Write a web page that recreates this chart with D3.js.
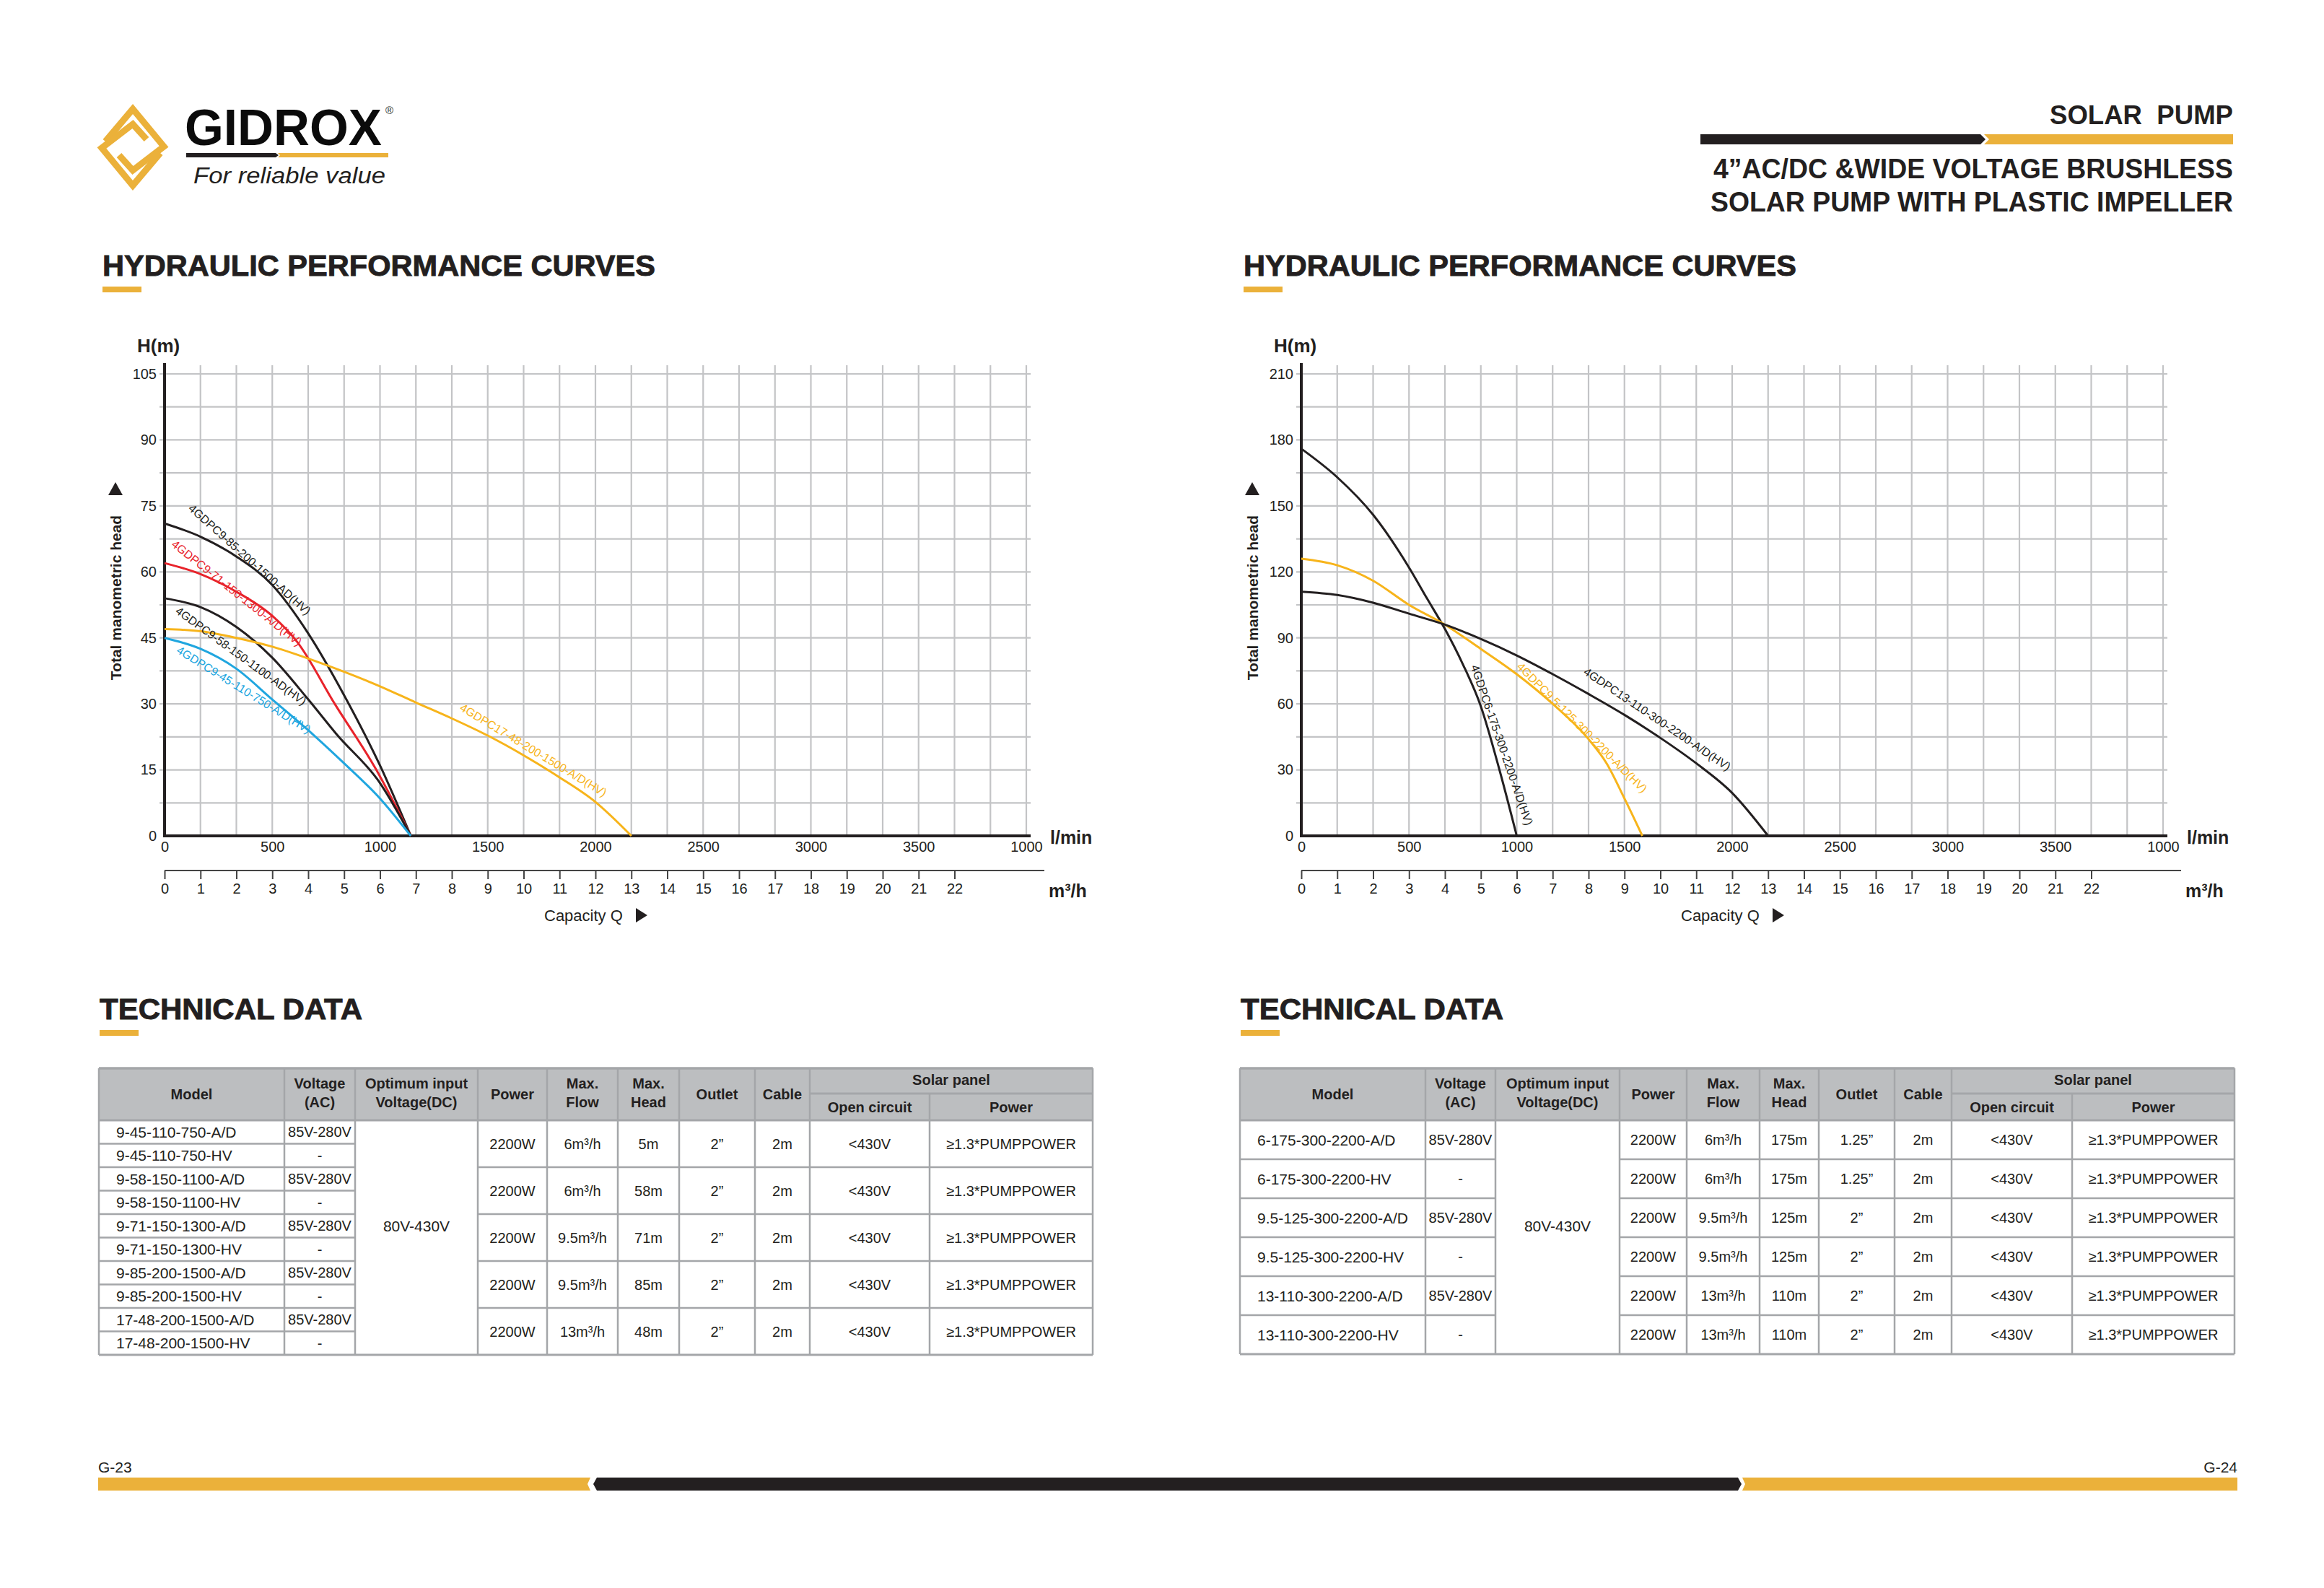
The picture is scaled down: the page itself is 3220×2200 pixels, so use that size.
<!DOCTYPE html>
<html><head><meta charset="utf-8">
<script src="https://cdn.jsdelivr.net/npm/d3@7/dist/d3.min.js"></script>
<style>body{margin:0;background:#fff}text{font-family:"Liberation Sans",Arial,sans-serif}</style>
</head><body>
<script>
// ---------------- DATA ----------------
// Left chart (H 0-105 m), flow in l/min as printed on the chart's l/min axis
const c85Flow = [0,167,333,500,667,833,1000,1143];
const c85Head = [71,68,63.5,57,46,32,16,0];
const c71Flow = [0,167,333,500,617,790,983,1143];
const c71Head = [62,59.5,55.5,50,44,30,15,0];
const c58Flow = [0,167,333,500,667,800,1000,1143];
const c58Head = [54,52,47.5,40.5,31,23,12,0];
const c45Flow = [0,167,333,500,667,833,1000,1143];
const c45Head = [45,42.5,38,31,24,16.5,8.5,0];
const c48Flow = [0,167,333,500,667,833,1000,1167,1333,1500,1667,1833,2000,2167];
const c48Head = [47,46.5,45,43,40.3,37.3,34,30.3,26.7,22.8,18.3,13.3,7.7,0];
const leftNames = ["4GDPC9-85-200-1500-AD(HV)","4GDPC9-71-150-1300-A/D(HV)","4GDPC9-58-150-1100-AD(HV)","4GDPC9-45-110-750-A/D(HV)","4GDPC17-48-200-1500-A/D(HV)"];
const leftLabelFlow = [395,335,355,368,1712];
const leftLabelHead = [62.8,55.2,40.9,33.2,19.5];
const leftLabelAngle = [41.8,38.4,36,31.7,31.1];

// Right chart (H 0-210 m)
const r175Flow = [0,167,333,500,583,667,750,833,917,1000];
const r175Head = [176,163,146,122,108,94,78,59,31,0];
const r125Flow = [0,167,333,500,667,833,1000,1167,1333,1417,1500,1583];
const r125Head = [126,123,116,105,96,85,73.5,60,44,33,17,0];
const r110Flow = [0,167,333,500,667,833,1000,1167,1333,1500,1667,1833,2000,2167];
const r110Head = [111,109.5,106,101,96,89.5,82,73.5,64.5,55,44.5,33,19.5,0];
const rightNames = ["4GDPC6-175-300-2200-A/D(HV)","4GDPC9.5-125-300-2200-A/D(HV)","4GDPC13-110-300-2200-A/D(HV)"];
const rightLabelFlow = [931,1303,1652];
const rightLabelHead = [41.3,49.2,53.1];
const rightLabelAngle = [71,45,34];

// Axis ticks
const leftHeadTicks = [0,15,30,45,60,75,90,105];
const rightHeadTicks = [0,30,60,90,120,150,180,210];
const lminTicks = [0,500,1000,1500,2000,2500,3000,3500,4000];
const lminLabels = ["0","500","1000","1500","2000","2500","3000","3500","1000"];
const m3hTicks = [0,1,2,3,4,5,6,7,8,9,10,11,12,13,14,15,16,17,18,19,20,21,22];
const m3hGrid = [1,2,3,4,5,6,7,8,9,10,11,12,13,14,15,16,17,18,19,20,21,22,23,24];

// Tables
const leftModels = ["9-45-110-750-A/D","9-45-110-750-HV","9-58-150-1100-A/D","9-58-150-1100-HV","9-71-150-1300-A/D","9-71-150-1300-HV","9-85-200-1500-A/D","9-85-200-1500-HV","17-48-200-1500-A/D","17-48-200-1500-HV"];
const leftAC = ["85V-280V","-","85V-280V","-","85V-280V","-","85V-280V","-","85V-280V","-"];
const leftPower = ["2200W","2200W","2200W","2200W","2200W"];
const leftFlow = ["6m³/h","6m³/h","9.5m³/h","9.5m³/h","13m³/h"];
const leftHead = ["5m","58m","71m","85m","48m"];
const leftOutlet = ["2”","2”","2”","2”","2”"];
const leftCable = ["2m","2m","2m","2m","2m"];
const leftOpen = ["<430V","<430V","<430V","<430V","<430V"];
const leftPanel = ["≥1.3*PUMPPOWER","≥1.3*PUMPPOWER","≥1.3*PUMPPOWER","≥1.3*PUMPPOWER","≥1.3*PUMPPOWER"];
const rightModels = ["6-175-300-2200-A/D","6-175-300-2200-HV","9.5-125-300-2200-A/D","9.5-125-300-2200-HV","13-110-300-2200-A/D","13-110-300-2200-HV"];
const rightAC = ["85V-280V","-","85V-280V","-","85V-280V","-"];
const rightPower = ["2200W","2200W","2200W","2200W","2200W","2200W"];
const rightFlow = ["6m³/h","6m³/h","9.5m³/h","9.5m³/h","13m³/h","13m³/h"];
const rightHead = ["175m","175m","125m","125m","110m","110m"];
const rightOutlet = ["1.25”","1.25”","2”","2”","2”","2”"];
const rightCable = ["2m","2m","2m","2m","2m","2m"];
const rightOpen = ["<430V","<430V","<430V","<430V","<430V","<430V"];
const rightPanel = ["≥1.3*PUMPPOWER","≥1.3*PUMPPOWER","≥1.3*PUMPPOWER","≥1.3*PUMPPOWER","≥1.3*PUMPPOWER","≥1.3*PUMPPOWER"];
const dcVoltage = "80V-430V";

// ---------------- STYLE ----------------
const DARK="#231f20", GOLD="#ebb13a", YEL="#f7b41b", RED="#e8232b", BLUE="#20a6df", GRID="#c3c4c6";
const W=3220, H=2200;
const svg = d3.select("body").append("svg").attr("width",W).attr("height",H);
svg.append("rect").attr("width",W).attr("height",H).attr("fill","#fff");

// ---------------- HEADER ----------------
const logo = svg.append("g");
const shapeA = [[146,196],[184,151],[227,203],[184,236],[165,215]];
const shapeB = [[222,212],[184,257],[141,205],[184,172],[203,193]];
[shapeA,shapeB].forEach(p=>logo.append("path").attr("d",d3.line()(p)).attr("fill","none")
  .attr("stroke",GOLD).attr("stroke-width",9).attr("stroke-linejoin","miter").attr("stroke-linecap","butt"));
logo.append("text").attr("x",256).attr("y",201).attr("font-size",70).attr("font-weight","bold")
  .attr("textLength",273).attr("lengthAdjust","spacingAndGlyphs").attr("fill","#0b0b0b").text("GIDROX");
logo.append("text").attr("x",534).attr("y",158).attr("font-size",15).attr("fill",DARK).text("®");
logo.append("path").attr("d","M258,212 L382,212 L386,215 L382,218 L258,218 Z").attr("fill",DARK);
logo.append("path").attr("d","M385,212 L538,212 L538,218 L385,218 L388,215 Z").attr("fill",GOLD);
logo.append("text").attr("x",268).attr("y",254).attr("font-size",31).attr("font-style","italic")
  .attr("font-family","'DejaVu Sans',sans-serif").attr("font-weight","300").attr("fill",DARK)
  .attr("textLength",266).attr("lengthAdjust","spacingAndGlyphs").text("For reliable value");

const hdr = svg.append("g");
hdr.append("text").attr("x",3094).attr("y",172).attr("text-anchor","end").attr("font-size",36).attr("font-weight","bold")
  .attr("fill",DARK).attr("textLength",254).attr("lengthAdjust","spacingAndGlyphs").attr("xml:space","preserve").text("SOLAR  PUMP");
hdr.append("path").attr("d","M2356,186 L2744,186 L2751,193 L2744,200 L2356,200 Z").attr("fill",DARK);
hdr.append("path").attr("d","M2749,186 L3094,186 L3094,200 L2749,200 L2756,193 Z").attr("fill",GOLD);
hdr.append("text").attr("x",3094).attr("y",247).attr("text-anchor","end").attr("font-size",38).attr("font-weight","bold")
  .attr("fill",DARK).attr("textLength",720).attr("lengthAdjust","spacingAndGlyphs").text("4”AC/DC &WIDE VOLTAGE BRUSHLESS");
hdr.append("text").attr("x",3094).attr("y",293).attr("text-anchor","end").attr("font-size",38).attr("font-weight","bold")
  .attr("fill",DARK).attr("textLength",724).attr("lengthAdjust","spacingAndGlyphs").text("SOLAR PUMP WITH PLASTIC IMPELLER");

function sectionTitle(x,y,txt,len){
  svg.append("text").attr("x",x).attr("y",y).attr("font-size",41).attr("font-weight","bold").attr("fill",DARK)
    .attr("stroke",DARK).attr("stroke-width",0.9).attr("textLength",len).attr("lengthAdjust","spacingAndGlyphs").text(txt);
  svg.append("rect").attr("x",x).attr("y",y+15).attr("width",54).attr("height",8).attr("fill",GOLD);
}
sectionTitle(142,382,"HYDRAULIC PERFORMANCE CURVES",766);
sectionTitle(1723,382,"HYDRAULIC PERFORMANCE CURVES",766);
sectionTitle(138,1412,"TECHNICAL DATA",364);
sectionTitle(1719,1412,"TECHNICAL DATA",364);

// ---------------- CHARTS ----------------
function drawChart(x0, yMax, headTicks, curves, labels){
  const g = svg.append("g");
  const yTop=518, yBot=1158, xw=1194;
  const x = d3.scaleLinear().domain([0,4000]).range([x0,x0+xw]);
  const xm = d3.scaleLinear().domain([0,24]).range([x0,x0+xw]);
  const y = d3.scaleLinear().domain([0,yMax]).range([yBot,yTop]);
  const hGrid = d3.range(1,15).map(i=>i*yMax/14);
  // grid
  g.selectAll(".vg").data(m3hGrid).join("line").attr("x1",d=>xm(d)).attr("x2",d=>xm(d))
    .attr("y1",yTop-12).attr("y2",yBot).attr("stroke",GRID).attr("stroke-width",2.2);
  g.selectAll(".hg").data(hGrid).join("line").attr("x1",x0-7).attr("x2",x0+xw+6)
    .attr("y1",d=>y(d)).attr("y2",d=>y(d)).attr("stroke",GRID).attr("stroke-width",2.2);
  // axes lines
  g.append("line").attr("x1",x0).attr("x2",x0).attr("y1",yTop-15).attr("y2",yBot+2).attr("stroke",DARK).attr("stroke-width",4);
  g.append("line").attr("x1",x0-2).attr("x2",x0+xw+6).attr("y1",yBot).attr("y2",yBot).attr("stroke",DARK).attr("stroke-width",4);
  // y axis labels
  const ya = g.append("g").attr("transform",`translate(${x0},0)`)
    .call(d3.axisLeft(y).tickValues(headTicks).tickSize(0).tickPadding(11).tickFormat(d3.format("d")));
  ya.select(".domain").remove();
  ya.selectAll("text").attr("font-size",20).attr("fill",DARK).attr("font-family","'Liberation Sans',Arial,sans-serif");
  // l/min axis
  const xa = g.append("g").attr("transform",`translate(0,${yBot})`)
    .call(d3.axisBottom(x).tickValues(lminTicks).tickSize(0).tickPadding(8).tickFormat((d,i)=>lminLabels[i]));
  xa.select(".domain").remove();
  xa.selectAll("text").attr("font-size",20).attr("fill",DARK).attr("font-family","'Liberation Sans',Arial,sans-serif");
  // m3/h axis
  const mY = 1206;
  const ma = g.append("g").attr("transform",`translate(0,${mY})`)
    .call(d3.axisBottom(xm).tickValues(m3hTicks).tickSize(12).tickPadding(6).tickFormat(d3.format("d")));
  ma.select(".domain").remove();
  ma.selectAll("line").attr("stroke","#444").attr("stroke-width",2);
  ma.selectAll("text").attr("font-size",20).attr("fill",DARK).attr("font-family","'Liberation Sans',Arial,sans-serif");
  g.append("line").attr("x1",x0).attr("x2",x0+xw+25).attr("y1",mY).attr("y2",mY).attr("stroke","#444").attr("stroke-width",2.2);
  // axis titles
  g.append("text").attr("x",x0-38).attr("y",488).attr("font-size",26).attr("font-weight","bold").attr("fill",DARK).text("H(m)");
  g.append("text").attr("x",x0+xw+33).attr("y",1169).attr("font-size",25).attr("font-weight","bold").attr("fill",DARK).text("l/min");
  g.append("text").attr("x",x0+xw+31).attr("y",1243).attr("font-size",25).attr("font-weight","bold").attr("fill",DARK).text("m³/h");
  g.append("text").attr("transform",`translate(${x0-60},828) rotate(-90)`).attr("text-anchor","middle")
    .attr("font-size",21).attr("font-weight","bold").attr("fill",DARK).text("Total manometric head");
  const tx=x0-68, ty=677;
  g.append("path").attr("d",`M${tx-10},${ty+9} L${tx+10},${ty+9} L${tx},${ty-9} Z`).attr("fill",DARK);
  g.append("text").attr("x",x0+526).attr("y",1276).attr("font-size",22).attr("fill",DARK).text("Capacity  Q");
  const px=x0+660, py=1268;
  g.append("path").attr("d",`M${px-7},${py-10} L${px-7},${py+10} L${px+9},${py} Z`).attr("fill",DARK);
  // curves
  const line = d3.line().x(d=>x(d[0])).y(d=>y(d[1])).curve(d3.curveMonotoneX);
  curves.forEach(c=>{
    g.append("path").datum(d3.zip(c.flow,c.head)).attr("d",line).attr("fill","none")
      .attr("stroke",c.color).attr("stroke-width",3);
  });
  labels.forEach(l=>{
    g.append("text").attr("transform",`translate(${x(l.f)},${y(l.h)}) rotate(${l.a})`)
      .attr("text-anchor","middle").attr("dominant-baseline","central").attr("font-size",16)
      .attr("fill",l.color).text(l.name);
  });
}
const leftColors=[DARK,RED,DARK,BLUE,YEL];
const lc=[[c85Flow,c85Head],[c71Flow,c71Head],[c58Flow,c58Head],[c45Flow,c45Head],[c48Flow,c48Head]];
drawChart(228,105,leftHeadTicks,
  lc.map((c,i)=>({flow:c[0],head:c[1],color:leftColors[i]})),
  leftNames.map((n,i)=>({name:n,f:leftLabelFlow[i],h:leftLabelHead[i],a:leftLabelAngle[i],color:leftColors[i]})));
const rightColors=[DARK,YEL,DARK];
const rc=[[r175Flow,r175Head],[r125Flow,r125Head],[r110Flow,r110Head]];
drawChart(1803,210,rightHeadTicks,
  rc.map((c,i)=>({flow:c[0],head:c[1],color:rightColors[i]})),
  rightNames.map((n,i)=>({name:n,f:rightLabelFlow[i],h:rightLabelHead[i],a:rightLabelAngle[i],color:rightColors[i]})));

// ---------------- TABLES ----------------
function drawTable(cols, nRows, rowH, group, models, ac, per){
  const g=svg.append("g");
  const top=1480, hb=1552, sub=1515, bot=hb+nRows*rowH;
  const LC="#a4a6a9";
  g.append("rect").attr("x",cols[0]).attr("y",top).attr("width",cols[10]-cols[0]).attr("height",hb-top).attr("fill","#bcbec0");
  const hdrs=[["Model"],["Voltage","(AC)"],["Optimum input","Voltage(DC)"],["Power"],["Max.","Flow"],["Max.","Head"],["Outlet"],["Cable"]];
  hdrs.forEach((h,i)=>{
    const cx=(cols[i]+cols[i+1])/2;
    h.forEach((t,j)=>{
      const yy = h.length==1 ? (top+hb)/2 : (j==0?1501:1527);
      g.append("text").attr("x",cx).attr("y",yy).attr("text-anchor","middle").attr("dominant-baseline","central")
        .attr("font-size",20).attr("font-weight","bold").attr("fill",DARK).text(t);
    });
  });
  g.append("text").attr("x",(cols[8]+cols[10])/2).attr("y",1496).attr("text-anchor","middle").attr("dominant-baseline","central")
    .attr("font-size",20).attr("font-weight","bold").attr("fill",DARK).text("Solar panel");
  g.append("text").attr("x",(cols[8]+cols[9])/2).attr("y",1534).attr("text-anchor","middle").attr("dominant-baseline","central")
    .attr("font-size",20).attr("font-weight","bold").attr("fill",DARK).text("Open circuit");
  g.append("text").attr("x",(cols[9]+cols[10])/2).attr("y",1534).attr("text-anchor","middle").attr("dominant-baseline","central")
    .attr("font-size",20).attr("font-weight","bold").attr("fill",DARK).text("Power");
  const L=(x1,y1,x2,y2,w)=>g.append("line").attr("x1",x1).attr("y1",y1).attr("x2",x2).attr("y2",y2).attr("stroke",LC).attr("stroke-width",w||2.5);
  L(cols[0],top,cols[10],top,3.5); L(cols[0],hb,cols[10],hb,3); L(cols[0],bot,cols[10],bot,3);
  L(cols[8],sub,cols[10],sub,3);
  cols.forEach((c,i)=>{ if(i==9) L(c,sub,c,bot); else L(c,top,c,bot); });
  for(let r=1;r<nRows;r++){
    const yy=hb+r*rowH;
    L(cols[0],yy,cols[2],yy);
    if(r%group==0) L(cols[3],yy,cols[10],yy);
  }
  models.forEach((m,r)=>{
    const cy=hb+(r+0.5)*rowH;
    g.append("text").attr("x",cols[0]+24).attr("y",cy).attr("dominant-baseline","central").attr("font-size",21).attr("fill",DARK).text(m);
    g.append("text").attr("x",(cols[1]+cols[2])/2).attr("y",cy).attr("text-anchor","middle").attr("dominant-baseline","central").attr("font-size",20).attr("fill",DARK).text(ac[r]);
  });
  g.append("text").attr("x",(cols[2]+cols[3])/2).attr("y",1698).attr("text-anchor","middle").attr("dominant-baseline","central").attr("font-size",21).attr("fill",DARK).text(dcVoltage);
  per.forEach((arr,k)=>{
    const c=k+3;
    arr.forEach((v,gi)=>{
      const cy=hb+(gi+0.5)*group*rowH;
      g.append("text").attr("x",(cols[c]+cols[c+1])/2).attr("y",cy).attr("text-anchor","middle").attr("dominant-baseline","central")
        .attr("font-size",20).attr("fill",DARK).text(v);
    });
  });
}
drawTable([137,394,492,662,758,856,941,1046,1122,1288,1514],10,32.5,2,leftModels,leftAC,
  [leftPower,leftFlow,leftHead,leftOutlet,leftCable,leftOpen,leftPanel]);
drawTable([1718,1975,2072,2244,2337,2438,2520,2625,2704,2871,3096],6,54,1,rightModels,rightAC,
  [rightPower,rightFlow,rightHead,rightOutlet,rightCable,rightOpen,rightPanel]);

// ---------------- FOOTER ----------------
svg.append("text").attr("x",136).attr("y",2040).attr("font-size",21).attr("fill",DARK).text("G-23");
svg.append("text").attr("x",3100).attr("y",2040).attr("text-anchor","end").attr("font-size",21).attr("fill",DARK).text("G-24");
svg.append("path").attr("d","M136,2047 L818,2047 L814,2056 L818,2065 L136,2065 Z").attr("fill",GOLD);
svg.append("path").attr("d","M822,2056 L827,2047 L2408,2047 L2413,2056 L2408,2065 L827,2065 Z").attr("fill",DARK);
svg.append("path").attr("d","M2414,2047 L3100,2047 L3100,2065 L2414,2065 L2418,2056 Z").attr("fill",GOLD);
</script>
</body></html>
